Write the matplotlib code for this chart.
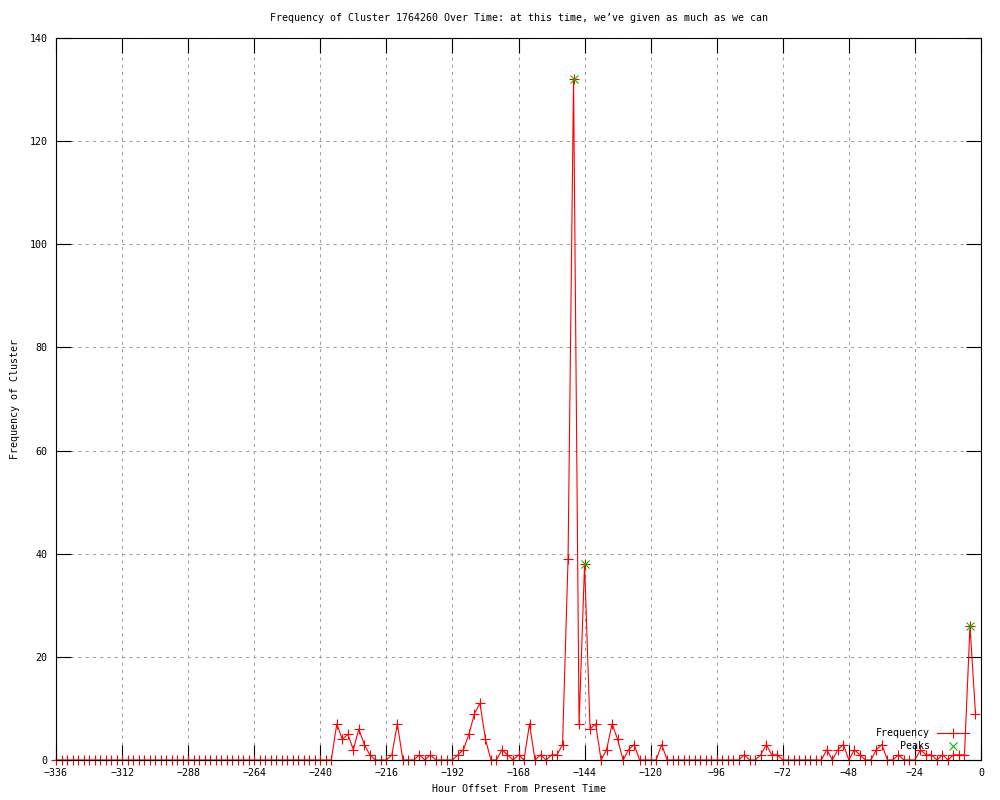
import matplotlib
matplotlib.use('agg')
import matplotlib.pyplot as plt

# hour offsets, one sample every 2 hours
hours = list(range(-336, 0, 2))

# frequency per 2-hour bin, 12 values (24 hours) per row
freq = [
    0, 0, 0, 0, 0, 0, 0, 0, 0, 0, 0, 0,        # -336 .. -314
    0, 0, 0, 0, 0, 0, 0, 0, 0, 0, 0, 0,        # -312 .. -290
    0, 0, 0, 0, 0, 0, 0, 0, 0, 0, 0, 0,        # -288 .. -266
    0, 0, 0, 0, 0, 0, 0, 0, 0, 0, 0, 0,        # -264 .. -242
    0, 0, 0, 7, 4, 5, 2, 6, 3, 1, 0, 0,        # -240 .. -218
    0, 1, 7, 0, 0, 0, 1, 0, 1, 0, 0, 0,        # -216 .. -194
    0, 1, 2, 5, 9, 11, 4, 0, 0, 2, 1, 0,       # -192 .. -170
    1, 0, 7, 0, 1, 0, 1, 1, 3, 39, 132, 7,     # -168 .. -146
    38, 6, 7, 0, 2, 7, 4, 0, 2, 3, 0, 0,       # -144 .. -122
    0, 0, 3, 0, 0, 0, 0, 0, 0, 0, 0, 0,        # -120 .. -98
    0, 0, 0, 0, 0, 1, 0, 0, 1, 3, 1, 1,        # -96 .. -74
    0, 0, 0, 0, 0, 0, 0, 0, 2, 0, 2, 3,        # -72 .. -50
    0, 2, 1, 0, 0, 2, 3, 0, 0, 1, 0, 0,        # -48 .. -26
    0, 2, 1, 1, 0, 1, 0, 1, 1, 1, 26, 9,       # -24 .. -2
]

peak_hours = [-148, -144, -4]
peak_vals = [132, 38, 26]

title = "Frequency of Cluster 1764260 Over Time: at this time, we\u2019ve given as much as we can"
xlabel = "Hour Offset From Present Time"
ylabel = "Frequency of Cluster"

font = 'DejaVu Sans Mono'
fs = 7.2
plt.rcParams['font.family'] = font
plt.rcParams['font.size'] = fs

fig = plt.figure(figsize=(10, 8), dpi=100)
ax = fig.add_axes([0.056, 0.05, 0.925, 0.9025])

ax.plot(hours, freq, color='#ff0000', lw=0.8, marker='+', ms=7, mew=0.8,
        clip_on=False, zorder=3, label='Frequency')
ax.plot(peak_hours, peak_vals, ls='none', color='#00c000', marker='x',
        ms=6, mew=0.8, clip_on=False, zorder=4, label='Peaks')

ax.set_xlim(-336, 0)
ax.set_ylim(0, 140)
ax.set_xticks(range(-336, 1, 24))
ax.set_yticks(range(0, 141, 20))

# gnuplot style: short grey dashes
ax.grid(True, color='#a0a0a0', ls=(0, (3, 4)), lw=0.75)
ax.set_axisbelow(True)
ax.tick_params(direction='in', length=11, width=0.8, top=True, right=True,
               labeltop=False, labelright=False, pad=6, colors='black')
for sp in ax.spines.values():
    sp.set_linewidth(0.8)
    sp.set_zorder(5)

ax.set_title(title, fontsize=fs, pad=12)
ax.set_xlabel(xlabel, labelpad=4)
ax.set_ylabel(ylabel, labelpad=7)

leg = ax.legend(loc='lower right', bbox_to_anchor=(0.987, 0.012),
                frameon=False, markerfirst=False, numpoints=1,
                handlelength=3.2, handletextpad=0.7, labelspacing=0.3,
                borderpad=0, borderaxespad=0)

plt.savefig('out.png', dpi=100)
